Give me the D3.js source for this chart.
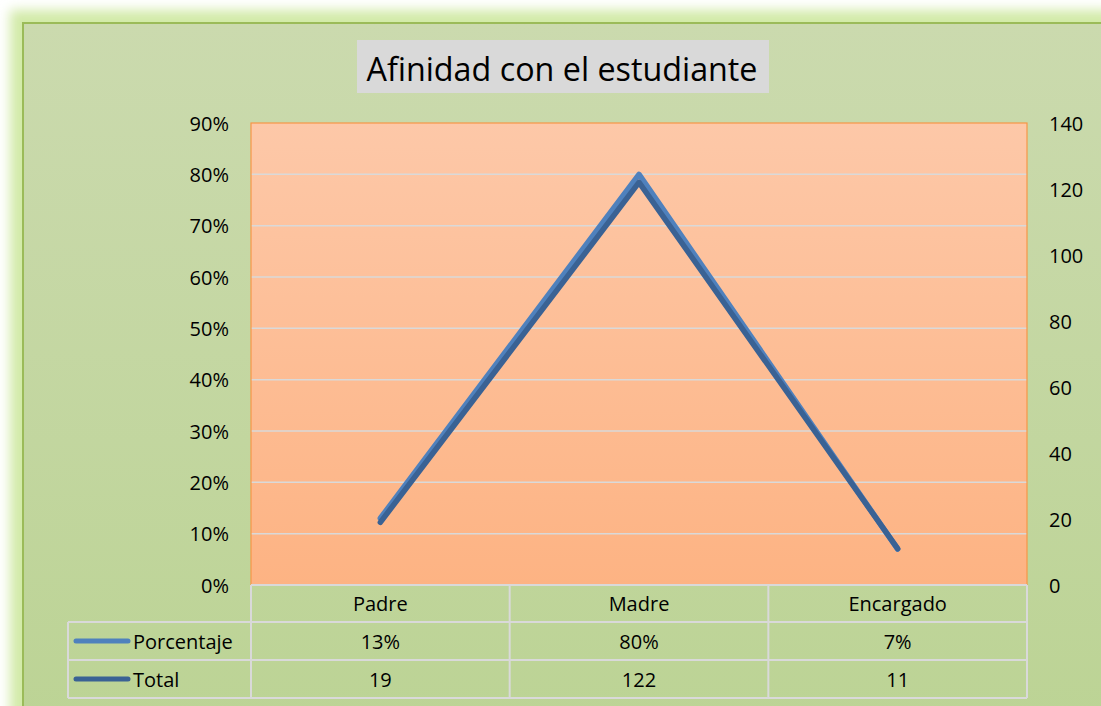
<!DOCTYPE html>
<html><head><meta charset="utf-8">
<script src="https://cdn.jsdelivr.net/npm/d3@7"></script>
<style>html,body{margin:0;padding:0;background:#fff;}svg{display:block;}</style>
</head><body>
<script>
const categories = ["Padre", "Madre", "Encargado"];
const porcentaje = [0.13, 0.80, 0.07];
const total = [19, 122, 11];
const porcentajeLabels = ["13%", "80%", "7%"];
const leftTicks = [0, 0.1, 0.2, 0.3, 0.4, 0.5, 0.6, 0.7, 0.8, 0.9];
const rightTicks = [0, 20, 40, 60, 80, 100, 120, 140];
const seriesNames = ["Porcentaje", "Total"];
const title = "Afinidad con el estudiante";

const W = 1101, H = 706;
const font = "'Open Sans', 'Noto Sans', sans-serif";
const fs = 20;
const svg = d3.select("body").append("svg").attr("width", W).attr("height", H);
const defs = svg.append("defs");

const bg = defs.append("linearGradient").attr("id","bg").attr("x1",0).attr("y1",0).attr("x2",0).attr("y2",1);
bg.append("stop").attr("offset","0%").attr("stop-color","#cbdaae");
bg.append("stop").attr("offset","100%").attr("stop-color","#bbd393");
const pg = defs.append("linearGradient").attr("id","pg").attr("x1",0).attr("y1",0).attr("x2",0).attr("y2",1);
pg.append("stop").attr("offset","0%").attr("stop-color","#fdc8a8");
pg.append("stop").attr("offset","100%").attr("stop-color","#fdb383");
const blur = defs.append("filter").attr("id","glow").attr("x","-10%").attr("y","-10%").attr("width","120%").attr("height","120%");
blur.append("feGaussianBlur").attr("stdDeviation",6);

// glow
svg.append("rect").attr("x",10).attr("y",10).attr("width",W+40).attr("height",H+40)
  .attr("fill","#d2eaa8").attr("filter","url(#glow)");
// chart area
svg.append("rect").attr("x",23).attr("y",23).attr("width",W+40).attr("height",H+40)
  .attr("fill","url(#bg)").attr("stroke","#9bbb59").attr("stroke-width",2);

const x0 = 251, x1 = 1027, yTop = 123, yBot = 585;
const x = d3.scaleBand().domain(categories).range([x0, x1]);
const yL = d3.scaleLinear().domain([0, 0.9]).range([yBot, yTop]);
const yR = d3.scaleLinear().domain([0, 140]).range([yBot, yTop]);

// plot area
svg.append("rect").attr("x",x0).attr("y",yTop).attr("width",x1-x0).attr("height",yBot-yTop)
  .attr("fill","url(#pg)");
// gridlines
svg.append("g").selectAll("line").data(leftTicks.filter(d=>d>0 && d<0.9)).join("line")
  .attr("x1",x0).attr("x2",x1).attr("y1",d=>yL(d)).attr("y2",d=>yL(d))
  .attr("stroke","#d9d9d9").attr("stroke-width",1.5);
svg.append("rect").attr("x",x0).attr("y",yTop).attr("width",x1-x0).attr("height",yBot-yTop)
  .attr("fill","none").attr("stroke","#f79646").attr("stroke-width",1.2);

// axes
const axL = svg.append("g").attr("transform",`translate(${x0-22},0)`)
  .call(d3.axisLeft(yL).tickValues(leftTicks).tickFormat(d3.format(".0%")).tickSize(0).tickPadding(0));
axL.select(".domain").remove();
axL.selectAll("text").attr("font-family",font).attr("font-size",fs).attr("fill","#000").attr("dy","0.35em");
const axR = svg.append("g").attr("transform",`translate(${x1+22},0)`)
  .call(d3.axisRight(yR).tickValues(rightTicks).tickSize(0).tickPadding(0));
axR.select(".domain").remove();
axR.selectAll("text").attr("font-family",font).attr("font-size",fs).attr("fill","#000").attr("dy","0.35em");

// lines
const cx = d => x(d) + x.bandwidth()/2;
const lineP = d3.line().x((d,i)=>cx(categories[i])).y(d=>yL(d));
const lineT = d3.line().x((d,i)=>cx(categories[i])).y(d=>yR(d));
svg.append("path").datum(porcentaje).attr("d",lineP).attr("fill","none")
  .attr("stroke","#4f81bd").attr("stroke-width",5.5).attr("stroke-linecap","round").attr("stroke-linejoin","round");
svg.append("path").datum(total).attr("d",lineT).attr("fill","none")
  .attr("stroke","#3a6294").attr("stroke-width",5.5).attr("stroke-linecap","round").attr("stroke-linejoin","round");

// data table
const tl = 68, rowY = [585, 622, 660, 698];
const tg = svg.append("g").attr("stroke","#d9d9d9").attr("stroke-width",2).attr("fill","none");
tg.append("line").attr("x1",x0).attr("x2",x1).attr("y1",rowY[0]).attr("y2",rowY[0]);
[1,2,3].forEach(i=>tg.append("line").attr("x1",tl).attr("x2",x1).attr("y1",rowY[i]).attr("y2",rowY[i]));
tg.append("line").attr("x1",tl).attr("x2",tl).attr("y1",rowY[1]).attr("y2",rowY[3]);
[x0, ...categories.slice(1).map(c=>x(c)), x1].forEach(xx=>
  tg.append("line").attr("x1",xx).attr("x2",xx).attr("y1",rowY[0]).attr("y2",rowY[3]));

const txt = (xx,yy,s,anchor="middle") => svg.append("text").attr("x",xx).attr("y",yy)
  .attr("font-family",font).attr("font-size",fs).attr("fill","#000").attr("text-anchor",anchor)
  .attr("dominant-baseline","central").text(s);
categories.forEach((c,i)=>{
  txt(cx(c), (rowY[0]+rowY[1])/2, c);
  txt(cx(c), (rowY[1]+rowY[2])/2, porcentajeLabels[i]);
  txt(cx(c), (rowY[2]+rowY[3])/2, total[i]);
});
const legCol = ["#4f81bd","#3a6294"];
seriesNames.forEach((s,i)=>{
  const yy = (rowY[i+1]+rowY[i+2])/2;
  svg.append("line").attr("x1",76).attr("x2",128).attr("y1",yy).attr("y2",yy)
    .attr("stroke",legCol[i]).attr("stroke-width",5).attr("stroke-linecap","round");
  txt(133, yy, s, "start");
});

// title
svg.append("rect").attr("x",357).attr("y",40).attr("width",412).attr("height",53).attr("fill","#d9d9d9");
svg.append("text").attr("x",562).attr("y",68).attr("text-anchor","middle").attr("dominant-baseline","central")
  .attr("font-family",font).attr("font-size",32).attr("fill","#000")
  .attr("textLength",391).attr("lengthAdjust","spacingAndGlyphs").text(title);
</script>
</body></html>
